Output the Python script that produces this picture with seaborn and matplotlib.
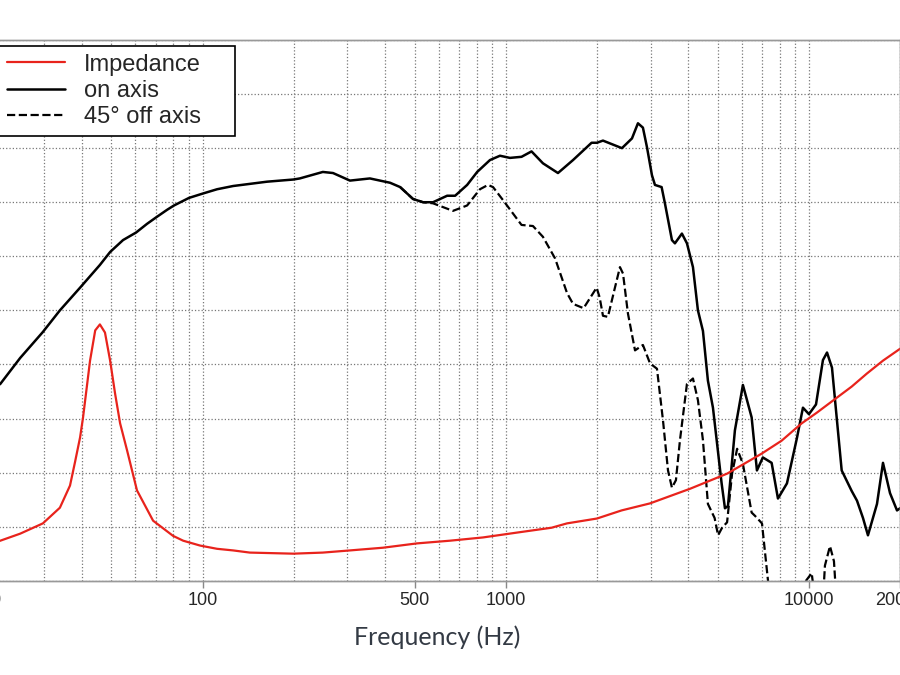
import numpy as np
import matplotlib
matplotlib.use('Agg')
import matplotlib.pyplot as plt
import seaborn as sns
from matplotlib.ticker import LogLocator, NullFormatter

# frequency response (dB)
on_freq = [20, 21.5, 25, 29.7, 33.8, 39.4, 45.8, 49.5, 54.6, 60.3,
           65.5, 70.2, 76.3, 80.4, 90.1, 100, 111.5, 126, 163, 199,
           209, 249, 269, 306, 356, 415, 448, 494, 533, 575,
           640, 680, 745, 804, 886, 956, 1031, 1126, 1215, 1325,
           1485, 1665, 1917, 1997, 2090, 2414, 2605, 2726, 2831, 2919,
           3032, 3102, 3263, 3346, 3529, 3610, 3807, 3955, 4140, 4299,
           4466, 4638, 4819, 5147, 5279, 5400, 5693, 6050, 6465, 6730,
           7040, 7525, 7895, 8453, 9120, 9545, 9990, 10540, 11110, 11460,
           11900, 12810, 13820, 14390, 15060, 15640, 16750, 17530, 18490, 19500,
           20200]
on_spl = [67.6, 68.2, 70.6, 73.0, 75.0, 77.1, 79.2, 80.4, 81.5, 82.2,
          83.0, 83.6, 84.3, 84.7, 85.4, 85.8, 86.2, 86.5, 86.9, 87.1,
          87.2, 87.8, 87.7, 87.0, 87.2, 86.8, 86.4, 85.3, 85.0, 85.0,
          85.6, 85.6, 86.6, 87.8, 88.9, 89.3, 89.1, 89.2, 89.7, 88.6,
          87.7, 88.9, 90.5, 90.5, 90.7, 90.0, 90.9, 92.3, 91.9, 90.1,
          87.5, 86.6, 86.4, 84.9, 81.5, 81.2, 82.1, 81.2, 79.0, 75.0,
          73.1, 68.5, 66.0, 59.0, 56.7, 56.9, 63.9, 68.1, 65.1, 60.2,
          61.4, 60.9, 57.6, 59.0, 63.2, 66.0, 65.4, 66.3, 70.4, 71.1,
          69.7, 60.2, 58.3, 57.4, 55.8, 54.2, 57.1, 60.9, 58.1, 56.5,
          56.8]

off_freq = [448, 494, 533, 575, 669, 745, 821, 873, 907, 978,
            1126, 1228, 1325, 1453, 1591, 1665, 1804, 1992, 2038, 2090,
            2170, 2289, 2378, 2434, 2527, 2666, 2831, 2988, 3150, 3298,
            3425, 3529, 3638, 3751, 3955, 4140, 4299, 4466, 4638, 4880,
            5010, 5165, 5365, 5572, 5790, 6050, 6465, 6631, 6993, 7320,
            7720, 9453, 9770, 10200, 10380, 11000, 11280, 11720, 12080, 12450,
            20200]
off_spl = [86.4, 85.3, 85.0, 84.9, 84.2, 84.7, 86.2, 86.6, 86.4, 85.2,
           82.9, 82.8, 81.8, 79.8, 76.6, 75.6, 75.2, 77.1, 76.2, 74.5,
           74.4, 77.1, 79.0, 78.4, 74.7, 71.3, 71.8, 70.1, 69.6, 64.8,
           60.2, 58.6, 59.3, 63.0, 68.2, 68.7, 66.7, 63.0, 57.1, 55.8,
           54.2, 54.9, 55.4, 59.9, 62.2, 60.8, 56.3, 56.0, 55.3, 50.0,
           46, 46, 50, 50.7, 49, 46, 51.4, 53.2, 51.8, 46,
           46]

# impedance (ohm)
imp_freq = [20, 21.5, 25, 29.7, 33.8, 36.5, 37.9, 39.4, 40.3, 42.5,
            44.2, 45.8, 47.6, 49.5, 51.4, 53.4, 56.3, 60.7, 68.6, 79.8,
            86.2, 98, 111.5, 126, 143, 199, 249, 306, 393, 509,
            654, 840, 1088, 1415, 1590, 1997, 2408, 2988, 4048, 5365,
            6975, 8119, 9453, 10620, 11980, 13820, 15500, 17530, 20200]
imp_ohm = [6.9, 7.4, 8.7, 10.6, 13.5, 17.6, 21.9, 26.5, 30.2, 40.7,
           46.3, 47.4, 45.9, 40.7, 34.6, 29.1, 24.1, 16.7, 11.1, 8.3,
           7.4, 6.5, 5.9, 5.6, 5.2, 5.0, 5.2, 5.6, 6.1, 6.9,
           7.4, 8.0, 8.9, 9.8, 10.6, 11.5, 13.0, 14.3, 17.0, 19.8,
           23.5, 25.9, 29.1, 31.1, 33.3, 35.9, 38.3, 40.7, 43.1]

x_ticks = [20, 100, 500, 1000, 10000, 20000]
x_ticklabels = ['20', '100', '500', '1000', '10000', '20000']

sns.set_style('white')
plt.rcParams['font.family'] = ['Liberation Sans', 'DejaVu Sans']

fig = plt.figure(figsize=(9, 6.75), dpi=100)
ax = fig.add_axes([-0.01022, 0.1397, 1.0106, 0.801])
ax2 = ax.twinx()

sns.lineplot(x=on_freq, y=on_spl, ax=ax, color='black', lw=1.8,
             estimator=None, sort=False, label='on axis')
sns.lineplot(x=off_freq, y=off_spl, ax=ax, color='black', lw=1.6, linestyle='--',
             estimator=None, sort=False, label='45° off axis')
sns.lineplot(x=imp_freq, y=imp_ohm, ax=ax2, color='#e8231c', lw=1.6,
             estimator=None, sort=False, label='Impedance')

ax.set_xscale('log')
ax.set_xlim(20, 20000)
ax.set_ylim(50, 100)
ax2.set_ylim(0, 100)

ax.set_xticks(x_ticks)
ax.set_xticklabels(x_ticklabels)
ax.xaxis.set_minor_locator(LogLocator(base=10, subs=range(2, 10)))
ax.xaxis.set_minor_formatter(NullFormatter())
ax.tick_params(axis='x', which='minor', length=0)
ax.tick_params(axis='x', which='major', length=5, width=1, color='#888888',
               direction='out', labelsize=13, pad=3, bottom=True)
ax.set_yticks(np.arange(50, 101, 5))
# y scales sit outside the visible area in the original
ax.tick_params(axis='y', left=False, labelleft=False)
ax2.tick_params(axis='y', right=False, labelright=False)

ax.grid(True, which='both', axis='x', ls=':', color='#777777', lw=0.9)
ax.grid(True, which='major', axis='y', ls=':', color='#777777', lw=0.9)
ax2.grid(False)
for a in (ax, ax2):
    for s in a.spines.values():
        s.set_color('#999999')
        s.set_linewidth(1)

ax.set_xlabel('Frequency (Hz)', fontfamily='Lato', fontsize=18, color='#333a44')
ax.xaxis.set_label_coords(0.4906, -0.083)
ax.set_ylabel('')
ax2.set_ylabel('')

h1, l1 = ax2.get_legend_handles_labels()
h2, l2 = ax.get_legend_handles_labels()
ax.get_legend().remove()
ax2.get_legend().remove()
leg = ax2.legend(h1 + h2, l1 + l2, loc='upper left',
                 bbox_to_anchor=(-0.0011, 0.9319, 0.2622, 0), bbox_transform=fig.transFigure,
                 mode='expand', borderaxespad=0, fontsize=17, handlelength=2.45,
                 handletextpad=0.8, labelspacing=0.18, borderpad=0.33,
                 fancybox=False, edgecolor='black', framealpha=1)
leg.get_frame().set_linewidth(1.2)

fig.savefig('out.png', dpi=100)
